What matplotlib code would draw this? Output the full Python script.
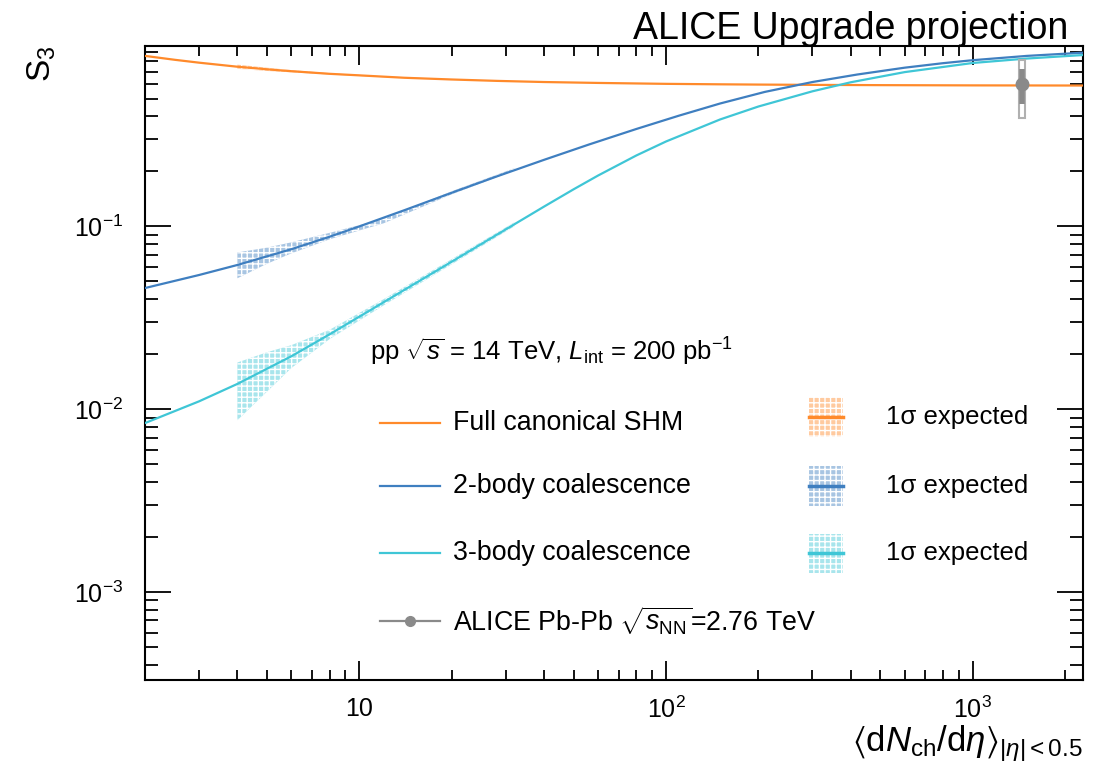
import numpy as np
import matplotlib
matplotlib.use('Agg')
import matplotlib.pyplot as plt
from matplotlib.patches import Rectangle

plt.rcParams['font.family'] = ['Liberation Sans', 'DejaVu Sans']
plt.rcParams['mathtext.fontset'] = 'custom'
plt.rcParams['mathtext.rm'] = 'Liberation Sans'
plt.rcParams['mathtext.it'] = 'Liberation Sans:italic'
plt.rcParams['mathtext.default'] = 'regular'
plt.rcParams['hatch.linewidth'] = 1.0

# model curves
shm_x = [2, 2.5, 3, 4, 5, 6, 8, 10, 14, 20, 28, 40, 60, 100, 150, 200, 300, 500,
         1000, 2280]
shm_y = [0.856, 0.815, 0.786, 0.747, 0.723, 0.706, 0.683, 0.670, 0.650, 0.636,
         0.625, 0.616, 0.609, 0.602, 0.5985, 0.5965, 0.5943, 0.5923, 0.5905, 0.5894]
coal2_x = [2, 3, 4, 6, 8, 10, 14, 20, 28, 40, 56, 80, 110, 150, 210, 300, 420, 600,
           800, 1000, 1500, 2280]
coal2_y = [0.0460, 0.0542, 0.0615, 0.0750, 0.0878, 0.100, 0.1225, 0.1527, 0.1874,
           0.2312, 0.2803, 0.341, 0.403, 0.470, 0.544, 0.616, 0.677, 0.738, 0.781,
           0.811, 0.856, 0.891]
coal3_x = [2, 3, 4, 6, 8, 11, 16, 20, 28, 40, 50, 60, 80, 100, 150, 200, 300, 400,
           600, 1000, 1500, 2280]
coal3_y = [0.0084, 0.01104, 0.01375, 0.01948, 0.0257, 0.03528, 0.0513, 0.0641,
           0.0898, 0.1283, 0.1597, 0.1897, 0.2443, 0.2914, 0.3844, 0.4525, 0.548,
           0.614, 0.698, 0.783, 0.828, 0.865]

# projected 1 sigma bands
band_x = [4, 5, 6, 8, 12, 20, 32]
shm_lo = [0.727, 0.708, 0.696, 0.677, 0.654, 0.633, 0.620]
shm_hi = [0.767, 0.738, 0.716, 0.689, 0.662, 0.639, 0.624]
coal2_lo = [0.0520, 0.0625, 0.0712, 0.0850, 0.1040, 0.1497, 0.2020]
coal2_hi = [0.0720, 0.0765, 0.0818, 0.0922, 0.1100, 0.1557, 0.2080]
coal3_lo = [0.0087, 0.0125, 0.0168, 0.0242, 0.0370, 0.0620, 0.1000]
coal3_hi = [0.0180, 0.0205, 0.0224, 0.0272, 0.0400, 0.0662, 0.1052]

# ALICE Pb-Pb point
pbpb_x = 1447
pbpb_y = 0.60
pbpb_stat = 0.13
pbpb_sys = 0.21

xtick_vals = [10, 100, 1000]
xtick_labels = ['10', '$10^{2}$', '$10^{3}$']
ytick_vals = [1e-3, 1e-2, 1e-1]
ytick_labels = ['$10^{-3}$', '$10^{-2}$', '$10^{-1}$']

c_orange = '#ff8a2b'
c_blue = '#3f7fc0'
c_cyan = '#3fc6d6'
c_gray = '#8a8a8a'

fig = plt.figure(figsize=(10.99, 7.74), dpi=100)
ax = fig.add_axes([0.132, 0.1214, 0.853, 0.8192])
ax.set_xscale('log')
ax.set_yscale('log')
ax.set_xlim(2.0, 2280)
ax.set_ylim(3.3e-4, 0.97)

# bands
for lo, hi, col in [(shm_lo, shm_hi, c_orange), (coal2_lo, coal2_hi, c_blue),
                    (coal3_lo, coal3_hi, c_cyan)]:
    ax.fill_between(band_x, lo, hi, facecolor=matplotlib.colors.to_rgba(col, 0.45),
                    edgecolor='white', hatch='+++', linewidth=0, zorder=2)

# curves
ax.plot(shm_x, shm_y, color=c_orange, lw=1.6, zorder=3)
ax.plot(coal2_x, coal2_y, color=c_blue, lw=1.6, zorder=3)
ax.plot(coal3_x, coal3_y, color=c_cyan, lw=1.6, zorder=3)

# data point: sys box + stat bar
ax.add_patch(Rectangle((pbpb_x / 1.025, pbpb_y - pbpb_sys), pbpb_x * (1.025 - 1 / 1.025),
                       2 * pbpb_sys, facecolor='white', edgecolor='#b0b0b0', lw=1.5, zorder=4))
ax.errorbar([pbpb_x], [pbpb_y], yerr=[pbpb_stat], fmt='o', color=c_gray, ms=9,
            elinewidth=4, capsize=0, zorder=5)

# axes style
ax.set_xticks(xtick_vals, labels=xtick_labels)
ax.set_yticks(ytick_vals, labels=ytick_labels)
ax.tick_params(which='both', direction='in', top=True, right=True, width=1.3)
ax.tick_params(axis='x', which='major', length=14, labelsize=18, pad=12)
ax.tick_params(axis='x', which='minor', length=7)
ax.tick_params(axis='y', which='major', length=19, labelsize=18, pad=16)
ax.tick_params(axis='y', which='minor', length=9.5)
for s in ax.spines.values():
    s.set_linewidth(1.5)

ax.set_ylabel('$S_3$', fontsize=24, loc='top', labelpad=11)
ax.set_xlabel(r'$\langle d\mathit{N}_{ch}/d\mathit{\eta}\rangle_{|\mathit{\eta}|<0.5}$',
              fontsize=25, loc='right', labelpad=0)
fig.text(0.972, 0.963, 'ALICE Upgrade projection', fontsize=27, ha='right', va='center')

# legend (drawn by hand to mimic ROOT layout)
tr = ax.transAxes
ax.text(0.240, 0.517, r'pp $\sqrt{\mathit{s}}$ = 14 TeV, $\mathit{L}_{int}$ = 200 pb$^{-1}$',
        transform=tr, fontsize=18.5, va='center')
rows = [0.405, 0.306, 0.200, 0.093]
names = ['Full canonical SHM', '2-body coalescence', '3-body coalescence',
         r'ALICE Pb-Pb $\sqrt{\mathit{s}_{NN}}$=2.76 TeV']
cols = [c_orange, c_blue, c_cyan, c_gray]
for i, (yy, name, col) in enumerate(zip(rows, names, cols)):
    ax.plot([0.251, 0.315], [yy, yy], color=col, lw=1.6, transform=tr)
    if i == 3:
        ax.plot([0.283], [yy], 'o', color=col, ms=7, transform=tr)
    ax.text(0.328, yy, name, transform=tr, fontsize=19.3, va='center')
band_rows = [0.415, 0.306, 0.200]
for yy, col in zip(band_rows, cols[:3]):
    ax.add_patch(Rectangle((0.708, yy - 0.031), 0.036, 0.062, transform=tr,
                           facecolor=matplotlib.colors.to_rgba(col, 0.45),
                           edgecolor='white', hatch='+++', linewidth=0))
    ax.plot([0.708, 0.744], [yy, yy], color=col, lw=2.5, transform=tr)
    ax.text(0.790, yy, '1σ expected', transform=tr, fontsize=18.5, va='center')

fig.savefig('out.png', dpi=100)
